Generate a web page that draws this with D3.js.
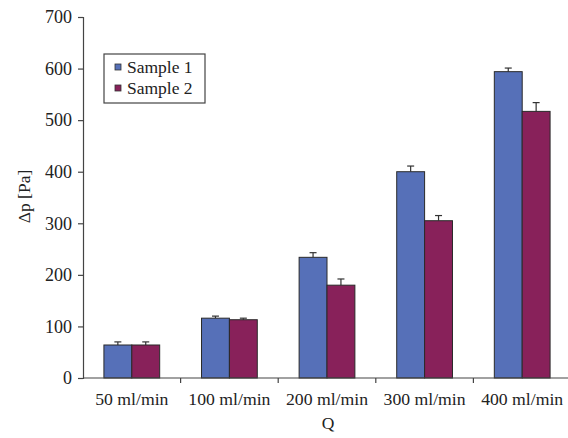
<!DOCTYPE html>
<html>
<head>
<meta charset="utf-8">
<script src="https://cdn.jsdelivr.net/npm/d3@7"></script>
<style>
  html, body { margin: 0; padding: 0; background: #fff; }
  svg { display: block; }
</style>
</head>
<body>
<svg id="chart" width="568" height="438"></svg>
<script>
// Pressure drop per flow rate, two samples, with upper error bars
const categories = ["50 ml/min", "100 ml/min", "200 ml/min", "300 ml/min", "400 ml/min"];
const seriesNames = ["Sample 1", "Sample 2"];
const sample1 = [64, 116, 234, 400, 594];
const sample2 = [64, 113, 180, 305, 517];
const sample1Err = [6, 4, 9, 11, 7];
const sample2Err = [6, 3, 12, 10, 17];
const yTicks = [0, 100, 200, 300, 400, 500, 600, 700];
const colors = ["#5670B8", "#88215A"];

const FONT = "'Liberation Serif', 'Times New Roman', serif";
const svg = d3.select("#chart").attr("font-family", FONT);
const margin = { left: 83, right: -3, top: 17, bottom: 60 };
const W = 568, H = 438;
const plotW = W - margin.left - margin.right;
const plotH = H - margin.top - margin.bottom;

const g = svg.append("g").attr("transform", `translate(${margin.left},${margin.top})`);

const x = d3.scaleBand().domain(categories).range([0, plotW]).paddingInner(0).paddingOuter(0);
const xs = d3.scaleBand().domain(seriesNames).range([0, x.bandwidth()]).paddingInner(0).paddingOuter(0.75);
const y = d3.scaleLinear().domain([0, 700]).range([plotH, 0]);

const values = [sample1, sample2];
const errs = [sample1Err, sample2Err];

// bars
seriesNames.forEach((name, si) => {
  const rows = categories.map((c, i) => ({ c, v: values[si][i], e: errs[si][i] }));
  const sg = g.append("g");
  const cx = d => x(d.c) + xs(name) + xs.bandwidth() / 2;
  // error bars (upper only)
  sg.selectAll("line.err").data(rows).join("line")
    .attr("x1", cx).attr("x2", cx)
    .attr("y1", d => y(d.v))
    .attr("y2", d => y(d.v + d.e))
    .attr("stroke", "#333").attr("stroke-width", 1.2);
  sg.selectAll("line.cap").data(rows).join("line")
    .attr("x1", d => cx(d) - 3.5)
    .attr("x2", d => cx(d) + 3.5)
    .attr("y1", d => y(d.v + d.e))
    .attr("y2", d => y(d.v + d.e))
    .attr("stroke", "#333").attr("stroke-width", 1.2);
  sg.selectAll("rect").data(rows).join("rect")
    .attr("x", d => x(d.c) + xs(name))
    .attr("y", d => y(d.v))
    .attr("width", xs.bandwidth())
    .attr("height", d => y(0) - y(d.v))
    .attr("fill", colors[si])
    .attr("stroke", "#2a2a2a").attr("stroke-width", 1);
});

// y axis
const yAxis = g.append("g")
  .call(d3.axisLeft(y).tickValues(yTicks).tickSize(5).tickPadding(6).tickFormat(d3.format("d")))
  .attr("font-family", FONT).attr("font-size", 18);
yAxis.select(".domain").attr("stroke", "#444").attr("stroke-width", 1.2);
yAxis.selectAll(".tick line").attr("stroke", "#444").attr("stroke-width", 1.2);
yAxis.selectAll(".tick text").attr("fill", "#222");

// x axis: ticks on band boundaries
const xAxisG = g.append("g").attr("transform", `translate(0,${plotH})`);
xAxisG.append("line").attr("x1", 0).attr("x2", plotW).attr("y1", 0).attr("y2", 0)
  .attr("stroke", "#444").attr("stroke-width", 1.2);
const boundaries = categories.map(c => x(c)).concat([x(categories[categories.length - 1]) + x.bandwidth()]);
xAxisG.selectAll("line.bt").data(boundaries.slice(1)).join("line")
  .attr("x1", d => d).attr("x2", d => d).attr("y1", 0).attr("y2", 5)
  .attr("stroke", "#444").attr("stroke-width", 1.2);
xAxisG.selectAll("text.cat").data(categories).join("text")
  .attr("x", d => x(d) + x.bandwidth() / 2)
  .attr("y", 27)
  .attr("text-anchor", "middle")
  .attr("font-size", 17.7).attr("fill", "#222")
  .text(d => d);

// axis titles
g.append("text")
  .attr("x", plotW / 2 + 1).attr("y", plotH + 51)
  .attr("text-anchor", "middle").attr("font-size", 17.5).attr("fill", "#222").text("Q");
svg.append("text")
  .attr("transform", `translate(30,${margin.top + plotH / 2 - 1}) rotate(-90)`)
  .attr("text-anchor", "middle").attr("font-size", 17.5).attr("fill", "#222").text("Δp [Pa]");

// legend
const legend = svg.append("g").attr("transform", "translate(104,54)");
legend.append("rect").attr("width", 101).attr("height", 49)
  .attr("fill", "#fff").attr("stroke", "#444").attr("stroke-width", 1.2);
seriesNames.forEach((name, i) => {
  const row = legend.append("g").attr("transform", `translate(11,${13 + i * 21})`);
  row.append("rect").attr("x", 0).attr("y", -3).attr("width", 6).attr("height", 6)
    .attr("fill", colors[i]).attr("stroke", "#333").attr("stroke-width", 0.8);
  row.append("text").attr("x", 12).attr("y", 5.5).attr("font-size", 17.5).attr("fill", "#222").text(name);
});
</script>
</body>
</html>
